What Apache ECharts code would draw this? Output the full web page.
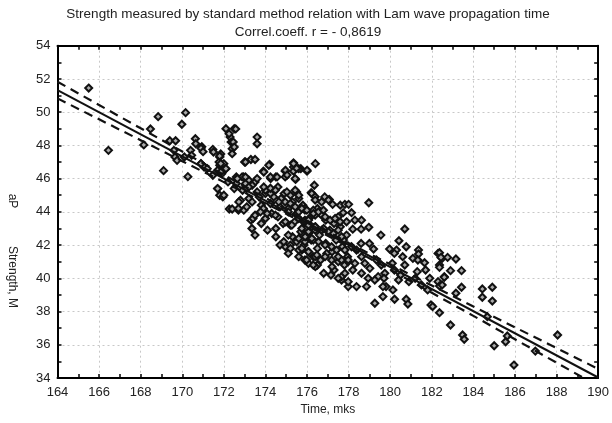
<!DOCTYPE html>
<html><head><meta charset="utf-8">
<script src="https://cdn.jsdelivr.net/npm/echarts@6/dist/echarts.min.js"></script>
<style>html,body{margin:0;padding:0;background:#fff}#c{width:612px;height:423px}</style>
</head><body><div id="c"></div>
<script>
// ---- data ----
const titleLines = ['Strength measured by standard method relation with Lam wave propagation time', 'Correl.coeff. r = - 0,8619'];
const xAxisTitle = 'Time, mks';
const yAxisTitleParts = ['Strength, M', 'aP'];
const xRange = [164, 190, 2];
const yRange = [34, 54, 2];

// measured samples [time, strength]
const measuredPoints = [
[165.5,51.45],[166.45,47.7],[168.15,48.03],[168.47,48.99],[168.84,49.73],[169.1,46.48],[169.4,48.28],[169.68,48.28],
[169.6,47.7],[169.65,47.3],[169.75,47.1],[169.98,49.27],[170.16,49.97],[170.1,47.3],[170.27,46.12],[170.4,47.7],
[170.45,47.4],[170.63,48.4],[170.65,48.1],[170.94,47.92],[170.9,46.9],[171.05,46.7],[171.2,46.6],[171.47,47.76],
[171.5,47.6],[171.47,46.2],[171.8,47.3],[171.8,46.8],[172.0,46.6],[171.9,46.3],[171.7,45.4],[171.8,45.0],
[171.95,44.9],[172.1,49.0],[172.3,48.5],[172.35,48.2],[172.4,47.8],[172.5,49.0],[172.57,48.99],[172.45,48.2],
[172.5,47.9],[172.26,44.17],[172.4,44.17],[172.6,46.1],[172.6,45.7],[172.7,44.1],[172.96,44.1],[172.8,44.7],
[172.5,45.4],[172.9,45.3],[172.95,46.1],[172.2,45.8],[173.0,47.0],[173.3,47.15],[173.5,47.15],[173.6,48.5],
[173.6,48.1],[173.9,46.45],[173.2,45.9],[173.5,45.8],[173.1,45.4],[173.6,45.2],[173.3,43.5],[173.35,43.0],
[173.5,42.6],[173.4,43.6],[173.5,43.8],[173.8,44.4],[173.2,44.8],[173.7,44.9],[173.9,44.2],[173.1,44.3],
[173.8,43.3],[174.2,46.85],[174.25,46.0],[174.5,46.1],[174.0,45.1],[174.2,45.3],[174.4,44.9],[174.0,43.6],
[174.3,43.9],[174.6,43.7],[174.5,43.0],[174.5,42.5],[174.7,42.0],[174.96,41.9],[174.95,46.45],[174.95,46.1],
[174.9,45.1],[174.95,44.6],[174.7,44.3],[174.6,45.5],[174.1,42.9],[174.85,43.3],[174.75,44.8],[175.35,46.95],
[175.35,46.7],[175.35,46.45],[175.7,46.6],[175.45,45.95],[175.2,45.0],[175.6,44.8],[175.5,45.2],[175.1,41.5],
[175.6,41.3],[175.2,43.2],[175.4,43.4],[175.8,44.4],[175.5,43.9],[175.9,44.1],[175.3,42.5],[175.7,42.8],
[175.9,43.5],[175.2,42.0],[175.5,42.2],[175.85,42.0],[175.1,44.2],[175.3,44.6],[175.6,44.0],[175.95,43.0],
[175.75,41.7],[176.0,46.45],[176.2,45.15],[176.5,44.2],[176.7,43.8],[176.9,43.5],[176.07,40.9],[176.8,40.3],
[176.3,41.3],[176.5,41.8],[176.2,42.3],[176.6,42.6],[176.9,42.1],[176.4,43.1],[176.1,43.6],[176.8,43.0],
[176.3,44.0],[176.7,44.6],[176.95,41.5],[176.5,40.8],[176.15,42.8],[176.65,41.1],[176.35,45.6],[176.85,44.9],
[176.4,46.9],[177.07,44.75],[177.23,44.45],[177.6,44.4],[177.5,43.7],[177.9,43.4],[177.66,39.9],[177.3,40.5],
[177.5,41.0],[177.2,41.6],[177.7,41.9],[177.4,42.3],[177.9,42.6],[177.1,42.9],[177.6,43.1],[177.3,43.3],
[177.8,40.8],[177.95,41.3],[177.15,40.2],[177.75,42.3],[177.82,44.45],[178.0,44.45],[177.74,43.95],[178.14,43.95],
[178.97,44.55],[178.3,43.5],[178.62,43.5],[178.2,42.96],[178.6,42.96],[178.97,43.07],[179.55,42.6],[180.7,42.97],
[180.42,42.26],[180.77,41.9],[179.97,41.76],[180.3,41.7],[180.2,41.5],[179.2,41.76],[179.0,42.1],[178.6,42.1],
[181.36,41.7],[181.36,41.46],[181.09,41.2],[181.33,41.1],[181.65,40.94],[181.7,40.5],[182.3,41.5],[182.5,41.2],
[182.37,40.8],[182.6,40.1],[182.3,39.8],[182.37,39.54],[179.26,38.5],[179.65,38.9],[180.13,39.3],[180.21,38.74],
[180.77,38.74],[180.85,38.45],[181.96,38.4],[182.04,38.3],[179.8,39.5],[179.65,39.5],[178.86,39.5],[178.38,39.5],
[177.98,39.5],[177.98,39.8],[177.66,40.1],[177.5,40.0],[177.82,40.3],[178.2,40.5],[177.98,41.0],[177.66,41.1],
[177.2,40.7],[176.4,40.7],[175.9,41.1],[182.37,41.54],[182.44,41.26],[182.76,41.26],[183.16,41.16],[182.37,40.66],
[182.9,40.46],[183.43,40.46],[182.6,40.06],[182.5,39.6],[183.43,39.46],[183.16,39.1],[184.43,39.36],[184.91,39.46],
[184.43,38.86],[184.91,38.63],[182.37,37.93],[182.9,37.19],[183.48,36.59],[183.56,36.33],[184.67,37.69],[185.0,35.94],
[185.55,36.18],[185.63,36.53],[186.98,35.62],[188.05,36.59],[185.95,34.78],
[170.9,46.9],[171.77,47.0],[172.0,46.9],[172.09,46.6],[173.04,47.0],[174.16,46.8],[173.92,46.4],[174.24,46.1],
[174.56,46.1],[174.96,46.5],[175.35,46.9],[175.6,46.6],[176.0,46.5],[175.43,46.0],[172.88,46.1],[172.64,46.0],
[173.04,45.7],[173.36,45.6],[173.6,46.0],[174.0,45.3],[174.24,45.1],[174.64,44.6],[175.03,45.2],[175.43,45.3],
[175.6,45.0],[176.23,45.1],[175.2,44.5],[175.43,44.3],[175.9,44.2],[176.3,44.1],[171.7,45.4],[172.0,45.0],
[172.72,44.6],[173.36,44.6],[174.24,44.5],[173.76,44.0],[174.08,43.9],[174.48,43.8],[175.1,44.0],[175.6,43.6],
[176.07,43.5],[176.39,43.8],[174.96,43.4],[175.27,43.2],[175.75,43.0],[176.07,42.8],[176.39,42.9],[175.6,42.4],
[175.9,42.2],[176.3,42.3],[175.1,42.6],[174.88,42.2],[175.2,41.8],[175.6,41.7],[176.07,41.6],[176.39,41.3],
[175.98,41.1],[176.3,40.8],
[175.75,44.2],[175.99,44.1],[176.31,43.9],[176.55,44.0],[176.79,44.1],[176.87,43.7],[177.11,43.5],[177.35,43.6],
[177.59,43.4],[175.83,43.4],[176.07,43.2],[176.39,43.1],[176.71,42.9],[177.03,42.8],[177.27,42.7],[177.5,42.9],
[177.66,42.5],[175.91,42.5],[176.23,42.4],[176.55,42.2],[176.87,42.0],[177.18,41.9],[177.42,41.7],[175.75,41.8],
[176.07,41.6],[176.47,41.4],[176.87,41.3],[177.18,41.1],[177.5,41.3],[177.82,41.7],[178.14,41.9],[178.38,41.7],
[178.62,41.3],[177.98,41.1],[178.3,40.9],[178.78,40.9],[179.02,40.6],[179.34,41.1],[179.57,40.8],[179.74,40.3],
[179.42,40.1],[178.62,40.3],[178.94,40.0],
[180.2,40.5],[180.7,40.8],[180.5,40.2],[180.9,39.8],[180.4,39.9],[180.6,41.3],[180.1,40.9],[181.2,40.0],
[181.5,39.6],[181.8,39.3],[181.3,40.4],[181.9,40.0],[179.26,39.9],[179.7,40.0],
[172.25,48.7],[172.4,47.5],[170.9,47.83],[171.0,47.62],[171.85,47.48],[171.8,47.36],[171.85,46.9],[171.7,46.5],
[171.85,46.4],[172.1,46.6],[172.7,44.2],[172.65,46.0],[173.04,46.1],[173.2,45.5],[173.92,45.5],[174.24,45.42],
[174.48,45.3],[175.04,46.22],[175.5,46.62],[176.39,44.91],[176.39,44.71],[177.03,44.71]
];

// regression line
const regressionTime = [164, 190];
const regressionStrength = [51.33, 34.03];

// 95% confidence band
const bandTime = [164, 166, 168, 170, 172, 174, 176, 178, 180, 182, 184, 186, 188, 190];
const bandUpper = [51.83, 50.43, 49.03, 47.63, 46.23, 44.84, 43.47, 42.13, 40.84, 39.57, 38.30, 37.05, 35.80, 34.55];
const bandLower = [50.83, 49.57, 48.31, 47.05, 45.79, 44.52, 43.23, 41.89, 40.52, 39.13, 37.74, 36.33, 34.92, 33.51];

// ---- chart ----
const FONT = 'Liberation Sans, Arial, sans-serif';
const pair = (xs, ys) => xs.map((x, i) => [x, ys[i]]);

const tickCommon = {
  axisLine: { show: true, onZero: false, lineStyle: { color: '#000', width: 2 } },
  axisTick: { show: true, inside: true, length: 4, lineStyle: { color: '#000', width: 1.5 } },
  minorTick: { show: true, splitNumber: 2, length: 4, lineStyle: { color: '#000', width: 1.5 } }
};

const chart = echarts.init(document.getElementById('c'), null, { renderer: 'canvas' });
chart.setOption({
  animation: false,
  backgroundColor: '#fff',
  title: [
    { text: titleLines[0], left: 303, textAlign: 'center', top: 2, textStyle: { fontFamily: FONT, fontSize: 13.5, fontWeight: 'normal', color: '#222' } },
    { text: titleLines[1], left: 303, textAlign: 'center', top: 20, textStyle: { fontFamily: FONT, fontSize: 13.5, fontWeight: 'normal', color: '#222' } }
  ],
  grid: { left: 57.5, right: 10.5, top: 45.7, bottom: 45, containLabel: false },
  xAxis: [
    Object.assign({
      type: 'value', min: xRange[0], max: xRange[1], interval: xRange[2], position: 'bottom',
      axisLabel: { color: '#222', fontSize: 13, fontFamily: FONT, margin: 8 },
      splitLine: { show: true, lineStyle: { color: '#c8c8c8', width: 1, type: [2, 3] } },
      name: xAxisTitle, nameLocation: 'middle', nameGap: 26,
      nameTextStyle: { fontFamily: FONT, fontSize: 12, color: '#222' }
    }, tickCommon),
    Object.assign({
      type: 'value', min: xRange[0], max: xRange[1], interval: xRange[2], position: 'top',
      axisLabel: { show: false }, splitLine: { show: false }
    }, tickCommon)
  ],
  yAxis: [
    Object.assign({
      type: 'value', min: yRange[0], max: yRange[1], interval: yRange[2], position: 'left',
      axisLabel: { color: '#222', fontSize: 13, fontFamily: FONT, margin: 7 },
      splitLine: { show: true, lineStyle: { color: '#c8c8c8', width: 1, type: [2, 3] } }
    }, tickCommon),
    Object.assign({
      type: 'value', min: yRange[0], max: yRange[1], interval: yRange[2], position: 'right',
      axisLabel: { show: false }, splitLine: { show: false }
    }, tickCommon)
  ],
  graphic: [
    { type: 'text', x: 12, y: 277, rotation: -Math.PI / 2,
      style: { text: yAxisTitleParts[0], align: 'center', verticalAlign: 'middle', font: '12px ' + FONT, fill: '#222' } },
    { type: 'text', x: 12, y: 201, rotation: -Math.PI / 2,
      style: { text: yAxisTitleParts[1], align: 'center', verticalAlign: 'middle', font: '12px ' + FONT, fill: '#222' } }
  ],
  series: [
    { type: 'scatter', xAxisIndex: 0, yAxisIndex: 0, data: measuredPoints, symbol: 'diamond', symbolSize: 7,
      itemStyle: { color: '#aaa', borderColor: '#111', borderWidth: 2, opacity: 1 }, z: 2, silent: true },
    { type: 'line', data: pair(regressionTime, regressionStrength), showSymbol: false, symbol: 'none',
      lineStyle: { color: '#111', width: 2 }, z: 5, silent: true },
    { type: 'line', data: pair(bandTime, bandUpper), showSymbol: false, symbol: 'none',
      lineStyle: { color: '#111', width: 2.2, type: [9, 6] }, z: 5, silent: true },
    { type: 'line', data: pair(bandTime, bandLower), showSymbol: false, symbol: 'none',
      lineStyle: { color: '#111', width: 2.2, type: [9, 6] }, z: 5, silent: true }
  ]
});
</script>
</body></html>
